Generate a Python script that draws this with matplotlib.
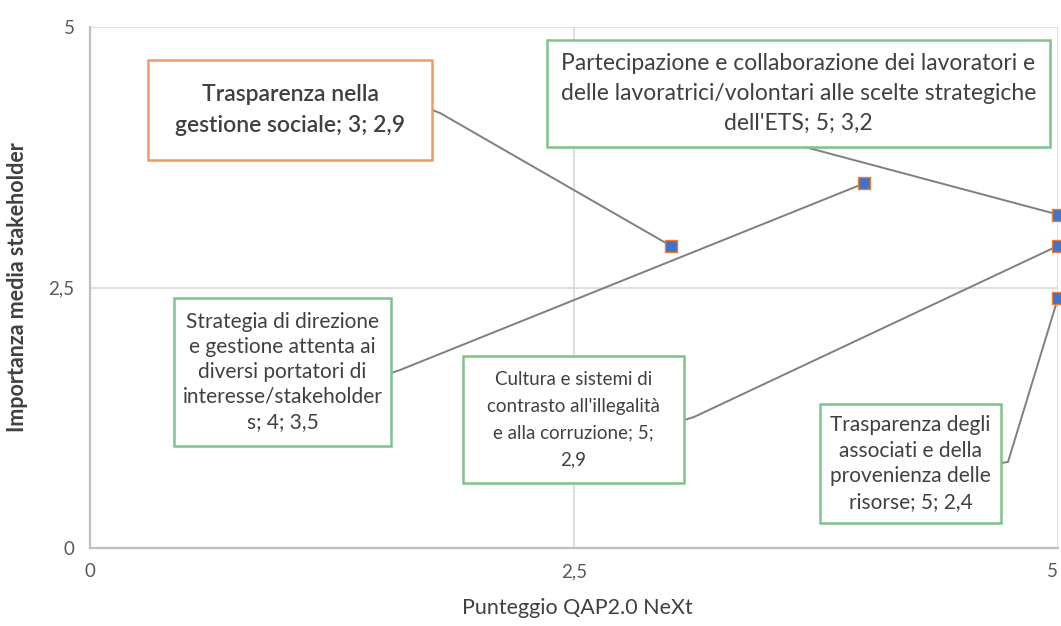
import matplotlib
matplotlib.use("Agg")
import matplotlib.pyplot as plt
from matplotlib.patches import Rectangle

plt.rcParams['font.family'] = ['Lato', 'DejaVu Sans']

# ---- data ----
labels = [
    "Trasparenza nella\ngestione sociale; 3; 2,9",
    "Strategia di direzione\ne gestione attenta ai\ndiversi portatori di\ninteresse/stakeholder\ns; 4; 3,5",
    "Partecipazione e collaborazione dei lavoratori e\ndelle lavoratrici/volontari alle scelte strategiche\ndell'ETS; 5; 3,2",
    "Cultura e sistemi di\ncontrasto all'illegalità\ne alla corruzione; 5;\n2,9",
    "Trasparenza degli\nassociati e della\nprovenienza delle\nrisorse; 5; 2,4",
]
x_vals = [3, 4, 5, 5, 5]
y_vals = [2.9, 3.5, 3.2, 2.9, 2.4]
tick_vals = [0, 2.5, 5]
tick_labels = ["0", "2,5", "5"]
x_title = "Punteggio QAP2.0 NeXt"
y_title = "Importanza media stakeholder"

# ---- layout ----
W, H = 1061, 626
L, R, T, B = 90, 1058, 27, 548

def px2d(px, py):
    return ((px - L) / (R - L) * 5, (B - py) / (B - T) * 5)

boxes_px = [
    (148, 60, 432, 160),
    (174, 298, 391, 446),
    (547, 40, 1050, 147),
    (463, 356, 684, 483),
    (820, 404, 1001, 523),
]
anchors_px = [
    [(432, 110), (440, 113)],
    [(391, 373), (400, 370)],
    [(805, 147)],
    [(684, 420), (694, 417)],
    [(1001, 463), (1008, 462)],
]
edge_colors = ['#EE9A66', '#80C28C', '#80C28C', '#80C28C', '#80C28C']
font_sizes = [16.5, 15, 16.5, 13.5, 15]
weights = ['semibold', 'normal', 'normal', 'normal', 'normal']
linespacing = [1.55, 1.3, 1.5, 1.7, 1.35]

fig = plt.figure(figsize=(W / 100, H / 100), dpi=100)
ax = fig.add_axes([L / W, 1 - B / H, (R - L) / W, (B - T) / H])
ax.set_xlim(0, 5)
ax.set_ylim(0, 5)

ax.set_xticks(tick_vals)
ax.set_xticklabels(tick_labels)
ax.set_yticks(tick_vals)
ax.set_yticklabels(tick_labels)
ax.tick_params(length=0, labelsize=13.5, colors='#595959', pad=11)
ax.get_xticklabels()[-1].set_horizontalalignment('right')
ax.grid(True, color='#D9D9D9', lw=1.2)
ax.set_axisbelow(True)
for s in ['top', 'right']:
    ax.spines[s].set_visible(False)
for s in ['left', 'bottom']:
    ax.spines[s].set_color('#BFBFBF')
    ax.spines[s].set_linewidth(1.6)

ax.set_xlabel(x_title, fontsize=15.5, color='#404040')
ax.set_ylabel(y_title, fontsize=15.5, color='#404040', fontweight='bold')
ax.xaxis.set_label_coords(0.503, (B - 608) / (B - T), transform=ax.transAxes)
ax.yaxis.set_label_coords((18 - L) / (R - L), 0.5, transform=ax.transAxes)
ax.xaxis.label.set_va('center')
ax.yaxis.label.set_va('center')

# leader lines and boxes
for i in range(len(labels)):
    bx0, by0, bx1, by1 = boxes_px[i]
    x0, y0 = px2d(bx0, by1)
    x1, y1 = px2d(bx1, by0)
    pts = [px2d(*p) for p in anchors_px[i]] + [(x_vals[i], y_vals[i])]
    ax.plot([p[0] for p in pts], [p[1] for p in pts], color='#7F7F7F', lw=1.4,
            zorder=2, clip_on=False)
    ax.add_patch(Rectangle((x0, y0), x1 - x0, y1 - y0, facecolor='white',
                           edgecolor=edge_colors[i], lw=1.8, zorder=3, clip_on=False))
    ax.text((x0 + x1) / 2, (y0 + y1) / 2, labels[i], ha='center', va='center',
            fontsize=font_sizes[i], color='#404040', fontweight=weights[i],
            linespacing=linespacing[i], zorder=4)

ax.plot(x_vals, y_vals, linestyle='none', marker='s', markersize=8,
        markerfacecolor='#4472C4', markeredgecolor='#ED7D31', markeredgewidth=1.0,
        zorder=5, clip_on=False)

fig.savefig("out.png", dpi=100)
